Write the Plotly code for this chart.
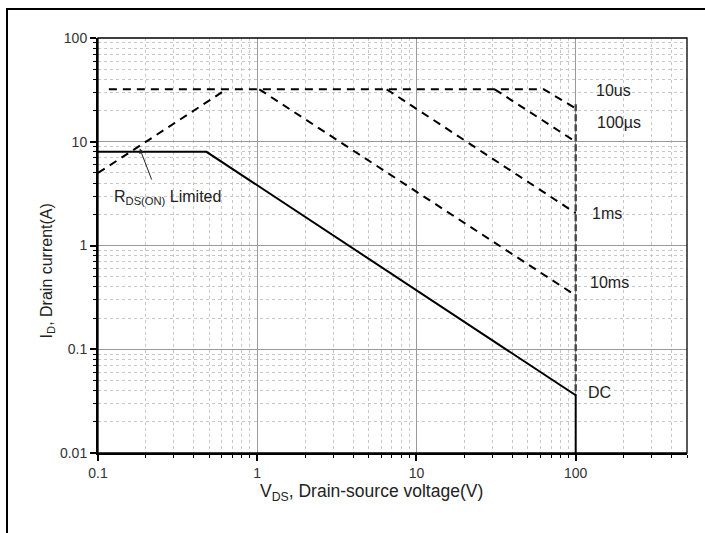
import math
import plotly.graph_objects as go

# ---- data ----
dc_v = [0.1, 0.48, 100, 100]
dc_i = [8.0, 8.0, 0.036, 0.01]

rds_v = [0.1, 0.64]
rds_i = [5.0, 32.0]

us10_v = [0.117, 63, 100]
us10_i = [32.0, 32.0, 21.0]

us100_v = [31, 100]
us100_i = [32.0, 10.0]

ms1_v = [6.5, 100]
ms1_i = [32.0, 2.05]

ms10_v = [1.03, 100]
ms10_i = [32.0, 0.33]

bv_v = [100, 100]
bv_i = [23.0, 0.036]

x_tickvals = [0.1, 1, 10, 100]
x_ticktext = ["0.1", "1", "10", "100"]
y_tickvals = [0.01, 0.1, 1, 10, 100]
y_ticktext = ["0.01", "0.1", "1", "10", "100"]

curve_labels = ["10us", "100\u00b5s", "1ms", "10ms", "DC"]
label_v = [131, 132, 123, 119, 116]
label_i = [31.5, 15.4, 2.03, 0.44, 0.038]

FONT = "Liberation Sans, Arial, sans-serif"
TXT = "#222222"
DASH = "8px,6px"

fig = go.Figure()
for xs, ys in [(rds_v, rds_i), (us10_v, us10_i), (us100_v, us100_i),
               (ms1_v, ms1_i), (ms10_v, ms10_i)]:
    fig.add_trace(go.Scatter(x=xs, y=ys, mode="lines",
                             line=dict(color="black", width=2, dash=DASH),
                             showlegend=False, hoverinfo="skip"))
fig.add_trace(go.Scatter(x=bv_v, y=bv_i, mode="lines",
                         line=dict(color="#444444", width=2.4, dash="7px,3px"),
                         showlegend=False, hoverinfo="skip"))
fig.add_trace(go.Scatter(x=dc_v, y=dc_i, mode="lines",
                         line=dict(color="black", width=2),
                         showlegend=False, hoverinfo="skip"))

annotations = []
for t, xv, yv in zip(curve_labels, label_v, label_i):
    annotations.append(dict(x=math.log10(xv), y=math.log10(yv), xref="x", yref="y",
                            text=t, showarrow=False, xanchor="left", yanchor="middle",
                            font=dict(family=FONT, size=16, color=TXT)))

# R_DS(ON) limited label with arrow
annotations.append(dict(x=math.log10(0.274), y=math.log10(2.9), xref="x", yref="y",
                        text="R<sub>DS(ON)</sub> Limited", showarrow=False,
                        xanchor="center", yanchor="middle",
                        font=dict(family=FONT, size=16, color=TXT)))
annotations.append(dict(x=math.log10(0.183), y=math.log10(8.6), xref="x", yref="y",
                        text=" ", showarrow=True, ax=13, ay=34, arrowhead=2,
                        arrowsize=1, arrowwidth=1, arrowcolor="#222", standoff=0,
                        font=dict(size=2)))

# axis titles
annotations.append(dict(x=0.4635, y=-0.094, xref="paper", yref="paper",
                        text="V<sub>DS</sub>, Drain-source voltage(V)", showarrow=False,
                        xanchor="center", yanchor="middle",
                        font=dict(family=FONT, size=17.5, color=TXT)))
annotations.append(dict(x=-0.0866, y=0.44, xref="paper", yref="paper",
                        text="I<sub>D</sub>, Drain current(A)", showarrow=False, textangle=-90,
                        xanchor="center", yanchor="middle",
                        font=dict(family=FONT, size=16, color=TXT)))

axis_common = dict(
    type="log",
    showline=True, linecolor="black", linewidth=2,
    ticks="outside", ticklen=6, tickwidth=1.5, tickcolor="black",
    showgrid=True, gridcolor="#9a9a9a", gridwidth=1.3,
    zeroline=False,
    tickfont=dict(family=FONT, size=14, color="#333333"),
    minor=dict(ticks="outside", ticklen=3, tickwidth=1, tickcolor="black",
               dtick="D1", showgrid=True, gridcolor="#c8c8c8", gridwidth=1,
               griddash="dot"),
)

fig.update_layout(
    width=705, height=533,
    margin=dict(l=98, r=18, t=38, b=80, autoexpand=False),
    paper_bgcolor="white", plot_bgcolor="white",
    xaxis=dict(range=[-1, math.log10(500)], tickmode="array",
               tickvals=x_tickvals, ticktext=x_ticktext, **axis_common),
    yaxis=dict(range=[-2, 2], tickmode="array",
               tickvals=y_tickvals, ticktext=y_ticktext, **axis_common),
    annotations=annotations,
    shapes=[
        dict(type="rect", xref="paper", yref="paper", x0=0, x1=1, y0=0, y1=1,
             line=dict(color="black", width=1.3), layer="above"),
        dict(type="rect", xref="paper", yref="paper", x0=-0.1545, x1=1.06,
             y0=-0.25, y1=1.0699, line=dict(color="black", width=2), layer="above"),
    ],
)

fig.write_html("out.html", config={"displayModeBar": False},
               post_script="document.body.style.margin='0';document.body.style.overflow='hidden';")
